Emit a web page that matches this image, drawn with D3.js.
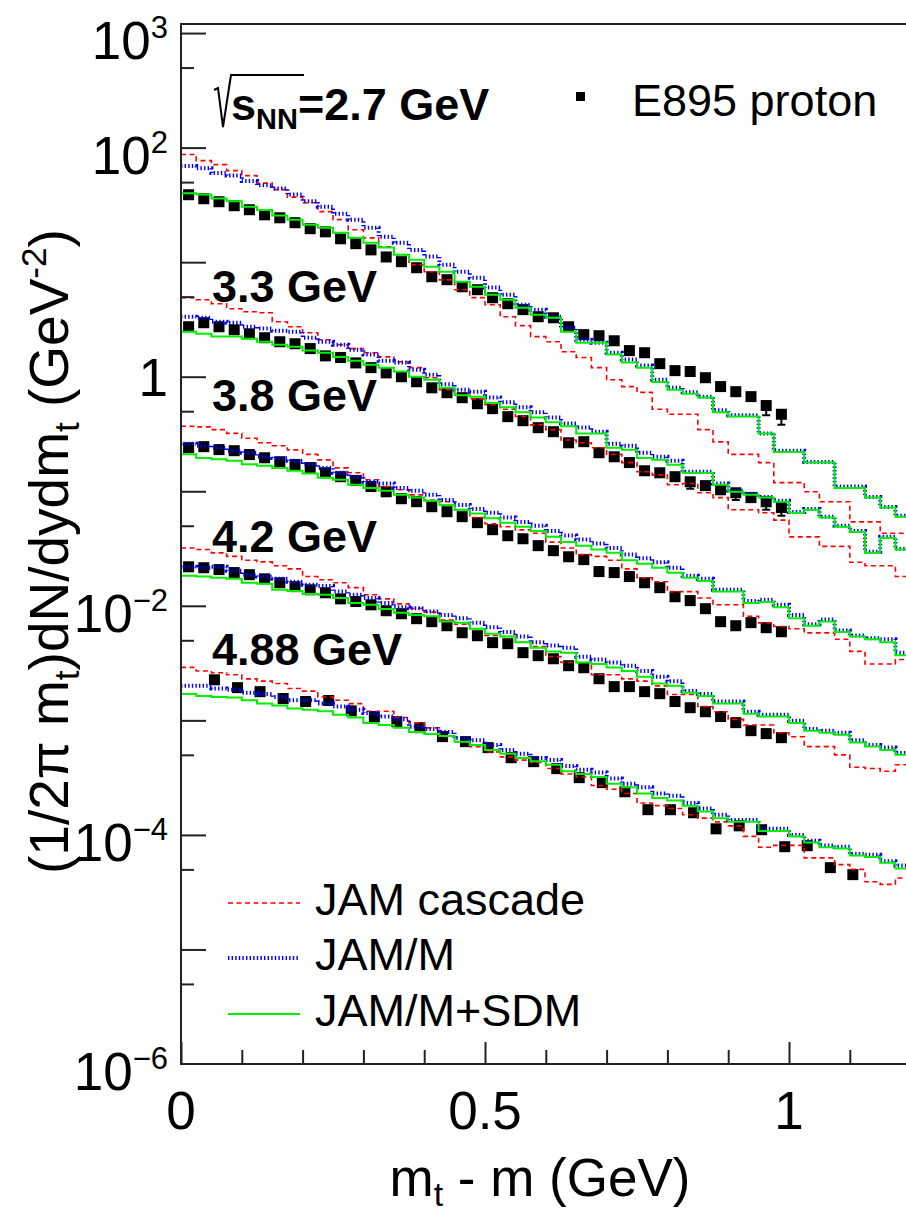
<!DOCTYPE html>
<html>
<head>
<meta charset="utf-8">
<script src="https://cdn.jsdelivr.net/npm/d3@7/dist/d3.min.js"></script>
<style>
  body { margin: 0; background: #fff; }
  text { font-family: "Liberation Sans", Arial, Helvetica, sans-serif; fill: #000; }
</style>
</head>
<body>
<div id="chart"></div>
<script>
// ---- data ----
// E895 points (GeV), same mt grid for 2.7 - 4.2 GeV
const mtPoints = [0.0125, 0.0375, 0.0625, 0.0875, 0.1125, 0.1375, 0.1625, 0.1875, 0.2125, 0.2375,
  0.2625, 0.2875, 0.3125, 0.3375, 0.3625, 0.3875, 0.4125, 0.4375, 0.4625, 0.4875,
  0.5125, 0.5375, 0.5625, 0.5875, 0.6125, 0.6375, 0.6625, 0.6875, 0.7125, 0.7375,
  0.7625, 0.7875, 0.8125, 0.8375, 0.8625, 0.8875, 0.9125, 0.9375, 0.9625, 0.9875];
const mtPoints488 = [0.055, 0.093, 0.130, 0.168, 0.205, 0.243, 0.280, 0.318, 0.355, 0.393,
  0.430, 0.468, 0.505, 0.543, 0.580, 0.618, 0.655, 0.693, 0.730, 0.768,
  0.805, 0.843, 0.880, 0.918, 0.955, 0.993, 1.030, 1.068, 1.105];

const data27 = [38.8, 35.8, 33.7, 31.1, 28.7, 25.9, 24.4, 22.1, 19.6, 18.4,
  16.0, 14.5, 12.8, 11.1, 10.1, 8.94, 7.46, 7.03, 6.10, 5.75,
  4.89, 4.34, 3.85, 3.34, 3.27, 2.73, 2.33, 2.28, 2.06, 1.69,
  1.62, 1.30, 1.13, 1.11, 0.98, 0.82, 0.74, 0.67, 0.56, 0.47];
const data33 = [2.73, 2.96, 2.73, 2.57, 2.37, 2.19, 2.02, 1.94, 1.76, 1.52,
  1.47, 1.32, 1.20, 1.08, 1.00, 0.904, 0.80, 0.725, 0.656, 0.581,
  0.526, 0.448, 0.413, 0.359, 0.331, 0.265, 0.271, 0.217, 0.200, 0.178,
  0.151, 0.145, 0.134, 0.121, 0.112, 0.103, 0.097, 0.088, 0.081, 0.072];
const data38 = [0.240, 0.245, 0.231, 0.226, 0.209, 0.196, 0.181, 0.171, 0.161, 0.145,
  0.134, 0.124, 0.110, 0.099, 0.0861, 0.0811, 0.0733, 0.0663, 0.0600, 0.0532,
  0.0462, 0.0409, 0.0385, 0.0335, 0.0303, 0.0268, 0.0253, 0.0199, 0.0195, 0.0180,
  0.0159, 0.0144, 0.0120, 0.0111, 0.00944, 0.00727, 0.00670, 0.00713, 0.00644, 0.00594];
const data42 = [0.0219, 0.0215, 0.0207, 0.0195, 0.0187, 0.0172, 0.0159, 0.0147, 0.0138, 0.0130,
  0.0115, 0.0109, 0.0102, 0.00906, 0.00853, 0.00772, 0.00727, 0.00670, 0.00582, 0.00548,
  0.00477, 0.00467, 0.00390, 0.00367, 0.00345, 0.00300, 0.00288, 0.00231, 0.00197, 0.00197,
  0.00178, 0.00171, 0.00146, 0.00129, 0.00119, 0.00108, 0.000955, 0.000813, 0.000766, 0.000706];
const data488 = [0.00226, 0.00193, 0.00178, 0.00155, 0.00146, 0.00149, 0.00121, 0.00108, 0.000973, 0.000863,
  0.000721, 0.000652, 0.000578, 0.000472, 0.000436, 0.000379, 0.000316, 0.000286, 0.000238, 0.000166,
  0.000166, 0.000156, 0.000113, 0.000120, 0.000111, 0.0000789, 0.0000805, 0.0000518, 0.0000450];

// lower error bars (only the visible ones)
const err27 = [0, 0, 0, 0, 0, 0, 0, 0, 0, 0, 0, 0, 0, 0, 0, 0, 0, 0, 0, 0,
  0, 0, 0, 0, 0, 0, 0, 0, 0, 0, 0, 0, 0, 0, 0, 0, 0, 0, 0.10, 0.09];
const err33 = [0, 0, 0, 0, 0, 0, 0, 0, 0, 0, 0, 0, 0, 0, 0, 0, 0, 0, 0, 0,
  0, 0, 0, 0, 0, 0, 0, 0, 0, 0, 0, 0, 0, 0.016, 0, 0, 0.013, 0, 0.012, 0.011];

// model histograms, bin edges (GeV)
const binEdges = [0, 0.025, 0.05, 0.075, 0.1, 0.125, 0.15, 0.175, 0.2, 0.225,
  0.25, 0.275, 0.3, 0.325, 0.35, 0.375, 0.4, 0.425, 0.45, 0.475,
  0.5, 0.525, 0.55, 0.575, 0.6, 0.625, 0.65, 0.675, 0.7, 0.725,
  0.75, 0.775, 0.8, 0.825, 0.85, 0.875, 0.9, 0.925, 0.95, 0.975,
  1.0, 1.025, 1.05, 1.075, 1.1, 1.125, 1.15, 1.175, 1.2];

const cascade27 = [87, 77, 71, 63, 57, 49, 43, 37, 33, 27.6, 23.5, 19.2, 16.3, 13.6, 11.6, 9.5, 8.25, 7.0, 5.75, 4.9,
  4.25, 3.34, 2.79, 2.24, 2.02, 1.65, 1.47, 1.20, 0.94, 0.82, 0.73, 0.52, 0.47, 0.47, 0.345, 0.27, 0.21, 0.21, 0.178, 0.119,
  0.119, 0.099, 0.081, 0.081, 0.054, 0.054, 0.043, 0.043];
const jamm27 = [69, 66, 60, 57, 51, 47, 44, 39, 34, 30.5, 26.5, 23.5, 20, 16.7, 14.8, 12.8, 11.2, 9.5, 8.25, 7.3,
  6.0, 5.2, 4.25, 3.84, 3.34, 2.68, 2.10, 1.98, 1.62, 1.41, 1.25, 0.94, 0.80, 0.73, 0.67, 0.51, 0.46, 0.46, 0.32, 0.226,
  0.226, 0.18, 0.18, 0.11, 0.11, 0.089, 0.073, 0.061];
const sdm27 = [40, 39, 36, 34, 30.5, 28.5, 25.5, 23.5, 21.2, 20, 18.1, 16.3, 14.8, 13.4, 11.6, 10.5, 9.1, 8.25, 6.75, 6.1,
  5.2, 4.7, 4.0, 3.48, 3.27, 2.47, 1.98, 1.98, 1.56, 1.33, 1.20, 0.90, 0.77, 0.71, 0.66, 0.49, 0.45, 0.45, 0.32, 0.22,
  0.22, 0.178, 0.178, 0.107, 0.107, 0.088, 0.072, 0.060];

const cascade33 = [4.9, 4.7, 4.34, 3.92, 3.69, 3.62, 3.02, 2.73, 2.42, 2.10, 1.90, 1.76, 1.62, 1.49, 1.35, 1.20, 0.98, 0.77, 0.69, 0.64,
  0.57, 0.52, 0.45, 0.38, 0.345, 0.28, 0.265, 0.24, 0.21, 0.178, 0.148, 0.139, 0.114, 0.117, 0.097, 0.088, 0.069, 0.069, 0.065, 0.056,
  0.040, 0.040, 0.033, 0.033, 0.024, 0.0224, 0.0224, 0.018];
const jamm33 = [3.34, 3.27, 3.02, 2.96, 2.73, 2.63, 2.52, 2.47, 2.19, 2.02, 1.90, 1.72, 1.56, 1.38, 1.33, 1.15, 1.04, 0.86, 0.77, 0.74,
  0.66, 0.60, 0.54, 0.49, 0.44, 0.39, 0.36, 0.33, 0.26, 0.25, 0.217, 0.20, 0.185, 0.148, 0.148, 0.117, 0.101, 0.095, 0.089, 0.0825,
  0.066, 0.070, 0.060, 0.050, 0.045, 0.0296, 0.040, 0.0315];
const sdm33 = [2.47, 2.37, 2.24, 2.24, 2.15, 2.02, 1.90, 1.83, 1.69, 1.62, 1.49, 1.38, 1.27, 1.20, 1.11, 1.00, 0.94, 0.80, 0.69, 0.67,
  0.59, 0.54, 0.49, 0.44, 0.40, 0.37, 0.32, 0.32, 0.24, 0.23, 0.195, 0.188, 0.17, 0.145, 0.145, 0.114, 0.099, 0.093, 0.088, 0.081,
  0.065, 0.069, 0.059, 0.049, 0.044, 0.029, 0.039, 0.031];

const cascade38 = [0.37, 0.365, 0.345, 0.32, 0.29, 0.265, 0.25, 0.23, 0.21, 0.188, 0.16, 0.145, 0.126, 0.11, 0.103, 0.093, 0.084, 0.081, 0.069, 0.059,
  0.052, 0.049, 0.046, 0.043, 0.036, 0.032, 0.028, 0.027, 0.025, 0.021, 0.0176, 0.0162, 0.0133, 0.0133, 0.0117, 0.0102, 0.0102, 0.0081, 0.0071, 0.0066,
  0.0063, 0.0058, 0.0058, 0.0051, 0.0040, 0.0031, 0.0031, 0.0034];
const jamm38 = [0.26, 0.25, 0.24, 0.226, 0.217, 0.20, 0.195, 0.185, 0.172, 0.16, 0.145, 0.134, 0.121, 0.117, 0.107, 0.101, 0.093, 0.084, 0.076, 0.070,
  0.065, 0.059, 0.054, 0.050, 0.045, 0.041, 0.038, 0.035, 0.032, 0.028, 0.026, 0.024, 0.0215, 0.0183, 0.0172, 0.0138, 0.0138, 0.011, 0.0113, 0.0102,
  0.0083, 0.0069, 0.0076, 0.0061, 0.0055, 0.0052, 0.0051, 0.0039];
const sdm38 = [0.21, 0.195, 0.19, 0.185, 0.172, 0.167, 0.16, 0.151, 0.143, 0.131, 0.126, 0.114, 0.107, 0.101, 0.093, 0.088, 0.0825, 0.076, 0.069, 0.064,
  0.058, 0.053, 0.049, 0.045, 0.040, 0.036, 0.0334, 0.031, 0.029, 0.025, 0.0233, 0.0215, 0.0194, 0.0176, 0.0165, 0.0133, 0.0133, 0.0106, 0.0108, 0.0097,
  0.0078, 0.0067, 0.0073, 0.0059, 0.0054, 0.0051, 0.0048, 0.0037];

const cascade42 = [0.032, 0.031, 0.029, 0.027, 0.025, 0.0242, 0.0224, 0.021, 0.018, 0.0169, 0.0159, 0.0144, 0.0125, 0.0115, 0.0104, 0.0095, 0.0088, 0.0075, 0.0069, 0.0063,
  0.0055, 0.0054, 0.0048, 0.0044, 0.0036, 0.0032, 0.0032, 0.0025, 0.0025, 0.0023, 0.0022, 0.0020, 0.00168, 0.00168, 0.00132, 0.00119, 0.00102, 0.00091, 0.00091, 0.00078,
  0.00072, 0.00059, 0.00059, 0.00050, 0.00039, 0.00038, 0.00036, 0.00041];
const jamm42 = [0.0219, 0.0215, 0.0219, 0.0202, 0.0187, 0.018, 0.0172, 0.0162, 0.0153, 0.0149, 0.0133, 0.0125, 0.0117, 0.0106, 0.0097, 0.0095, 0.0089, 0.0083, 0.0078, 0.0071,
  0.0065, 0.0059, 0.0054, 0.0048, 0.0045, 0.0043, 0.0036, 0.0034, 0.0032, 0.0030, 0.0027, 0.0024, 0.0022, 0.0018, 0.0017, 0.00146, 0.00146, 0.00119, 0.00112, 0.00112,
  0.00099, 0.00084, 0.00081, 0.00078, 0.00067, 0.00061, 0.00058, 0.00052];
const sdm42 = [0.0183, 0.018, 0.0176, 0.0172, 0.0159, 0.0156, 0.0138, 0.0135, 0.0127, 0.0125, 0.0117, 0.0106, 0.0102, 0.0094, 0.0087, 0.0083, 0.0081, 0.0073, 0.0071, 0.0063,
  0.0057, 0.0054, 0.0048, 0.0043, 0.0040, 0.0039, 0.0032, 0.0031, 0.0029, 0.0027, 0.0024, 0.0021, 0.0020, 0.00174, 0.00163, 0.0014, 0.0014, 0.00114, 0.00108, 0.00108,
  0.00095, 0.00081, 0.00078, 0.00075, 0.00064, 0.00059, 0.00055, 0.00050];

const cascade488 = [0.0029, 0.0027, 0.0026, 0.0025, 0.0023, 0.0022, 0.0021, 0.0019, 0.0018, 0.0016, 0.0015, 0.0014, 0.0012, 0.0012, 0.00106, 0.00095, 0.00086, 0.00072, 0.00065, 0.00059,
  0.00053, 0.00048, 0.00045, 0.00043, 0.00038, 0.00034, 0.00032, 0.00027, 0.00025, 0.00023, 0.00019, 0.00018, 0.00017, 0.00015, 0.00014, 0.00013, 0.00012, 0.000097, 0.000078, 0.000081,
  0.000081, 0.000063, 0.000063, 0.000055, 0.000050, 0.000039, 0.000037, 0.000042];
const jamm488 = [0.0020, 0.0020, 0.0019, 0.00185, 0.00174, 0.0017, 0.0016, 0.0015, 0.0015, 0.0014, 0.00132, 0.00124, 0.00116, 0.00108, 0.00102, 0.00088, 0.00084, 0.00079, 0.00070, 0.00067,
  0.00061, 0.00055, 0.00051, 0.00047, 0.00045, 0.00040, 0.00037, 0.00035, 0.00031, 0.00028, 0.00026, 0.00023, 0.00022, 0.00019, 0.00017, 0.00015, 0.000135, 0.000135, 0.000113, 0.000113,
  0.0001, 0.000089, 0.000081, 0.000079, 0.000068, 0.000067, 0.000059, 0.000054];
const sdm488 = [0.0017, 0.00163, 0.0016, 0.00158, 0.0015, 0.0014, 0.00135, 0.00127, 0.00124, 0.0012, 0.00112, 0.00106, 0.00095, 0.00091, 0.00086, 0.00079, 0.00076, 0.00073, 0.00065, 0.00061,
  0.00055, 0.00051, 0.00047, 0.00044, 0.00041, 0.00036, 0.00034, 0.00032, 0.00028, 0.00026, 0.00023, 0.00021, 0.0002, 0.00018, 0.00016, 0.00014, 0.00013, 0.00013, 0.000108, 0.000108,
  0.000097, 0.000086, 0.000078, 0.000076, 0.000066, 0.000064, 0.000057, 0.000051];

// labels
const energyLabels = ["2.7", "3.3", "3.8", "4.2", "4.88"];
const yLabelValues = [1e3, 1e2, 1, 1e-2, 1e-4, 1e-6];
const yMajorTicks = [1e3, 1e2, 1e1, 1, 1e-1, 1e-2, 1e-3, 1e-4, 1e-5];
const yMinorTicks = [500, 50, 5, 0.5, 0.05, 5e-3, 5e-4, 5e-5, 5e-6];
const xLabelValues = [0, 0.5, 1];
const xMinorTicks = [0.1, 0.2, 0.3, 0.4, 0.6, 0.7, 0.8, 0.9, 1.1];
const legendNames = ["JAM cascade", "JAM/M", "JAM/M+SDM"];

// ---- setup ----
const width = 906, height = 1212;
const plotLeft = 181, plotTop = 24, plotBottom = 1064, plotRight = 910.6;

const svg = d3.select("#chart").append("svg")
  .attr("width", width)
  .attr("height", height);
svg.append("rect").attr("width", width).attr("height", height).attr("fill", "#fff");

const x = d3.scaleLinear().domain([0, 1.2]).range([plotLeft, plotRight]);
const y = d3.scaleLog().domain([1e-6, 1200]).range([plotBottom, plotTop]);

const styles = {
  cascade: { color: "#ff0000", width: 1.6, dash: "5,3.5" },
  jamm: { color: "#0000ff", width: 4, dash: "1.4,2.2" },
  sdm: { color: "#00ee00", width: 2, dash: null }
};

const groups = [
  { x: mtPoints, data: data27, err: err27, cascade: cascade27, jamm: jamm27, sdm: sdm27 },
  { x: mtPoints, data: data33, err: err33, cascade: cascade33, jamm: jamm33, sdm: sdm33 },
  { x: mtPoints, data: data38, err: null, cascade: cascade38, jamm: jamm38, sdm: sdm38 },
  { x: mtPoints, data: data42, err: null, cascade: cascade42, jamm: jamm42, sdm: sdm42 },
  { x: mtPoints488, data: data488, err: null, cascade: cascade488, jamm: jamm488, sdm: sdm488 }
];

svg.append("clipPath").attr("id", "plotclip")
  .append("rect")
  .attr("x", plotLeft).attr("y", plotTop)
  .attr("width", plotRight - plotLeft).attr("height", plotBottom - plotTop);

const plot = svg.append("g").attr("clip-path", "url(#plotclip)");

// data markers
groups.forEach(g => {
  const pts = g.data.map((v, i) => ({ x: g.x[i], v: v, e: g.err ? g.err[i] : 0 }));
  plot.selectAll(null)
    .data(pts.filter(d => d.e > 0))
    .join("path")
    .attr("d", d => {
      const xp = x(d.x), y0 = y(d.v), y1 = y(d.v - d.e);
      return `M${xp},${y0}V${y1}M${xp - 4},${y1}H${xp + 4}`;
    })
    .attr("stroke", "#000")
    .attr("stroke-width", 2)
    .attr("fill", "none");
  plot.selectAll(null)
    .data(pts)
    .join("rect")
    .attr("x", d => x(d.x) - 5.5)
    .attr("y", d => y(d.v) - 5.5)
    .attr("width", 11)
    .attr("height", 11)
    .attr("fill", "#000");
});

// model histograms
const stepLine = d3.line()
  .x(d => x(d[0]))
  .y(d => y(d[1]))
  .curve(d3.curveStepAfter);

["cascade", "jamm", "sdm"].forEach(key => {
  const st = styles[key];
  groups.forEach(g => {
    const vals = g[key];
    const pts = binEdges.map((e, i) => [e, vals[Math.min(i, vals.length - 1)]]);
    plot.append("path")
      .attr("d", stepLine(pts))
      .attr("fill", "none")
      .attr("stroke", st.color)
      .attr("stroke-width", st.width)
      .attr("stroke-dasharray", st.dash);
  });
});

// ---- axes ----
const frameColor = "#222";
svg.append("g")
  .attr("transform", `translate(${plotLeft},0)`)
  .call(d3.axisLeft(y).tickValues(yMajorTicks).tickSize(-25).tickFormat(""))
  .call(g => g.select(".domain").remove())
  .selectAll("line").attr("stroke", frameColor).attr("stroke-width", 2);
svg.append("g")
  .attr("transform", `translate(${plotLeft},0)`)
  .call(d3.axisLeft(y).tickValues(yMinorTicks).tickSize(-13).tickFormat(""))
  .call(g => g.select(".domain").remove())
  .selectAll("line").attr("stroke", frameColor).attr("stroke-width", 2);

svg.append("g")
  .attr("transform", `translate(0,${plotBottom})`)
  .call(d3.axisBottom(x).tickValues(xLabelValues).tickSize(-22).tickFormat(""))
  .call(g => g.select(".domain").remove())
  .selectAll("line").attr("stroke", frameColor).attr("stroke-width", 2);
svg.append("g")
  .attr("transform", `translate(0,${plotBottom})`)
  .call(d3.axisBottom(x).tickValues(xMinorTicks).tickSize(-14).tickFormat(""))
  .call(g => g.select(".domain").remove())
  .selectAll("line").attr("stroke", frameColor).attr("stroke-width", 2);

// frame
svg.append("rect")
  .attr("x", plotLeft).attr("y", plotTop)
  .attr("width", plotRight - plotLeft).attr("height", plotBottom - plotTop)
  .attr("fill", "none").attr("stroke", frameColor).attr("stroke-width", 2);

// y tick labels
yLabelValues.forEach(v => {
  const ex = Math.round(Math.log10(v));
  const t = svg.append("text")
    .attr("x", 168)
    .attr("text-anchor", "end")
    .style("font-size", "53px");
  if (ex === 0) {
    t.attr("y", y(v) + 19).text("1");
  } else {
    t.attr("y", y(v) + 26);
    t.append("tspan").text("10");
    t.append("tspan").attr("dy", -21).style("font-size", "31px")
      .text(ex < 0 ? "\u2212" + Math.abs(ex) : String(ex));
  }
});

// x tick labels
svg.selectAll(".xlab")
  .data(xLabelValues)
  .join("text")
  .attr("x", d => x(d))
  .attr("y", 1129)
  .attr("text-anchor", "middle")
  .style("font-size", "53px")
  .text(d => d3.format("")(d));

// axis titles
const xt = svg.append("text")
  .attr("x", 540).attr("y", 1196)
  .attr("text-anchor", "middle")
  .style("font-size", "53px");
xt.append("tspan").text("m");
xt.append("tspan").attr("dy", 10).style("font-size", "34px").text("t");
xt.append("tspan").attr("dy", -10).text(" - m (GeV)");

const yt = svg.append("text")
  .attr("transform", "translate(68,874) rotate(-90)")
  .attr("text-anchor", "start")
  .style("font-size", "55px");
yt.append("tspan").text("(1/2\u03c0 m");
yt.append("tspan").attr("dy", 11).style("font-size", "35px").text("t");
yt.append("tspan").attr("dy", -11).text(")dN/dydm");
yt.append("tspan").attr("dy", 11).style("font-size", "35px").text("t");
yt.append("tspan").attr("dy", -11).text(" (GeV");
yt.append("tspan").attr("dy", -22).style("font-size", "35px").text("-2");
yt.append("tspan").attr("dy", 22).text(")");

// energy labels
svg.append("path")
  .attr("d", "M214,90 L218,88 L223,127 L231,75 L304,75")
  .attr("fill", "none").attr("stroke", "#000").attr("stroke-width", 2);
const et = svg.append("text")
  .attr("x", 231).attr("y", 120)
  .style("font-size", "45px").style("font-weight", "bold");
et.append("tspan").text("s");
et.append("tspan").attr("dy", 9).style("font-size", "29px").text("NN");
et.append("tspan").attr("dy", -9).text("=" + energyLabels[0] + " GeV");

const energyBaselines = [302, 411, 552, 665];
energyLabels.slice(1).forEach((e, i) => {
  svg.append("text")
    .attr("x", 212).attr("y", energyBaselines[i])
    .style("font-size", "45px").style("font-weight", "bold")
    .text(e + " GeV");
});

// legend: data
svg.append("rect").attr("x", 576).attr("y", 92).attr("width", 9).attr("height", 9).attr("fill", "#000");
svg.append("text").attr("x", 632).attr("y", 116).style("font-size", "45px").text("E895 proton");

// legend: models
const legendY = [903, 958, 1014];
["cascade", "jamm", "sdm"].forEach((key, i) => {
  const st = styles[key];
  svg.append("line")
    .attr("x1", 228).attr("x2", 300)
    .attr("y1", legendY[i]).attr("y2", legendY[i])
    .attr("stroke", st.color)
    .attr("stroke-width", st.width)
    .attr("stroke-dasharray", st.dash);
  svg.append("text")
    .attr("x", 315).attr("y", legendY[i] + 12)
    .style("font-size", "45px")
    .text(legendNames[i]);
});
</script>
</body>
</html>
